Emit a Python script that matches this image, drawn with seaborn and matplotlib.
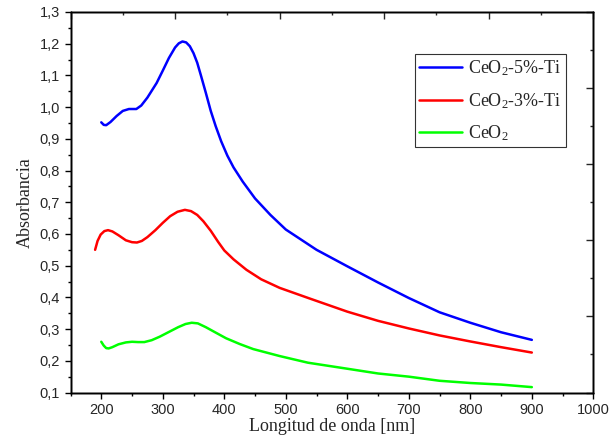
import numpy as np
import pandas as pd
import matplotlib
matplotlib.use("Agg")
import matplotlib.pyplot as plt
from matplotlib.ticker import MultipleLocator, FuncFormatter
import seaborn as sns

# ---- data ----
wl_5ti = [200, 204, 208, 215, 225, 235, 245, 257, 265, 275, 290, 300, 310, 320, 326,
          332, 338, 344, 350, 356, 362, 370, 378, 386, 395, 405, 415, 430, 450, 475,
          500, 550, 600, 650, 700, 750, 800, 850, 900]
abs_5ti = [0.952, 0.944, 0.943, 0.953, 0.972, 0.988, 0.994, 0.994, 1.005, 1.030, 1.076,
           1.115, 1.155, 1.188, 1.201, 1.207, 1.204, 1.192, 1.170, 1.140, 1.100, 1.045,
           0.988, 0.940, 0.892, 0.847, 0.810, 0.765, 0.712, 0.660, 0.614, 0.550, 0.498,
           0.447, 0.398, 0.353, 0.320, 0.290, 0.266]

wl_3ti = [190, 194, 199, 205, 211, 218, 228, 240, 250, 258, 266, 275, 288, 300, 312,
          324, 336, 346, 356, 366, 378, 390, 400, 415, 436, 460, 490, 538, 600, 650,
          700, 750, 800, 850, 900]
abs_3ti = [0.550, 0.578, 0.598, 0.609, 0.612, 0.608, 0.596, 0.580, 0.574, 0.573, 0.578,
           0.590, 0.612, 0.635, 0.656, 0.670, 0.676, 0.672, 0.660, 0.640, 0.610, 0.575,
           0.548, 0.520, 0.487, 0.457, 0.430, 0.397, 0.355, 0.326, 0.302, 0.280, 0.261,
           0.243, 0.226]

wl_ceo2 = [200, 204, 208, 212, 218, 228, 240, 250, 260, 270, 282, 295, 310, 325, 337,
           347, 357, 370, 385, 403, 425, 447, 490, 536, 600, 650, 700, 750, 800, 850,
           900]
abs_ceo2 = [0.260, 0.248, 0.240, 0.239, 0.243, 0.252, 0.258, 0.260, 0.259, 0.259,
            0.265, 0.276, 0.291, 0.306, 0.316, 0.320, 0.318, 0.306, 0.290, 0.271,
            0.253, 0.237, 0.215, 0.194, 0.175, 0.160, 0.150, 0.137, 0.130, 0.125,
            0.117]

series_names = [r"CeO$_2$-5%-Ti", r"CeO$_2$-3%-Ti", r"CeO$_2$"]
series_colors = ["#0000FF", "#FF0000", "#00FF00"]

df = pd.concat([
    pd.DataFrame({"wl": wl_5ti, "abs": abs_5ti, "muestra": series_names[0]}),
    pd.DataFrame({"wl": wl_3ti, "abs": abs_3ti, "muestra": series_names[1]}),
    pd.DataFrame({"wl": wl_ceo2, "abs": abs_ceo2, "muestra": series_names[2]}),
], ignore_index=True)

# ---- style ----
sns.set_style("ticks")
plt.rcParams["font.family"] = ["Liberation Serif", "DejaVu Serif"]
plt.rcParams["mathtext.fontset"] = "custom"
plt.rcParams["mathtext.rm"] = "Liberation Serif"
plt.rcParams["mathtext.it"] = "Liberation Serif:italic"

fig = plt.figure(figsize=(6.11, 4.47), dpi=100)
ax = fig.add_axes([0.1154, 0.1219, 0.9711 - 0.1154, 0.9732 - 0.1219])

sns.lineplot(data=df, x="wl", y="abs", hue="muestra", hue_order=series_names,
             palette=series_colors, linewidth=1.8, sort=False, ax=ax, legend=True)

ax.set_xlim(150, 1000)
ax.set_ylim(0.1, 1.3)
ax.xaxis.set_major_locator(MultipleLocator(100))
ax.xaxis.set_minor_locator(MultipleLocator(50))
ax.yaxis.set_major_locator(MultipleLocator(0.1))
ax.yaxis.set_minor_locator(MultipleLocator(0.05))
ax.yaxis.set_major_formatter(FuncFormatter(lambda v, p: f"{v:.1f}".replace(".", ",")))
ax.xaxis.set_major_formatter(FuncFormatter(lambda v, p: f"{v:.0f}"))

ax.tick_params(axis="both", which="major", direction="out", length=4.5, width=1,
               labelsize=10.5, color="black", pad=3, labelfontfamily="Liberation Sans")
ax.tick_params(axis="both", which="minor", direction="out", length=2.2, width=1,
               color="black")

ax.set_xlabel("Longitud de onda [nm]", fontsize=13, labelpad=1)
ax.set_ylabel("Absorbancia", fontsize=13, labelpad=4)

for s in ax.spines.values():
    s.set_color("black")
    s.set_linewidth(1.0)

# mirrored inward ticks on top and right (independent 0..1 scale)
axr = ax.twinx()
axr.set_ylim(0, 1)
axr.yaxis.set_major_locator(MultipleLocator(0.2))
axr.yaxis.set_minor_locator(MultipleLocator(0.1))
axr.tick_params(axis="y", which="major", direction="in", length=5, width=1,
                labelright=False)
axr.tick_params(axis="y", which="minor", direction="in", length=2.4, width=1)
axt = ax.twiny()
axt.set_xlim(0, 1)
axt.xaxis.set_major_locator(MultipleLocator(0.2))
axt.xaxis.set_minor_locator(MultipleLocator(0.1))
axt.tick_params(axis="x", which="major", direction="in", length=5, width=1,
                labeltop=False)
axt.tick_params(axis="x", which="minor", direction="in", length=2.4, width=1)
for a in (axr, axt):
    for s in a.spines.values():
        s.set_color("black")
        s.set_linewidth(1.0)

handles, labels = ax.get_legend_handles_labels()
ax.get_legend().remove()
leg = axt.legend(handles, labels, loc="upper right", bbox_to_anchor=(0.947, 0.889),
                 fontsize=13, frameon=True, fancybox=False, shadow=False,
                 handlelength=2.4, handletextpad=0.35, borderpad=0.22,
                 labelspacing=0.72, borderaxespad=0)
leg.get_frame().set_edgecolor("black")
leg.get_frame().set_linewidth(0.8)
for t in leg.get_texts():
    t.set_family(["Liberation Serif", "DejaVu Serif"])

fig.savefig("out.png", dpi=100)
